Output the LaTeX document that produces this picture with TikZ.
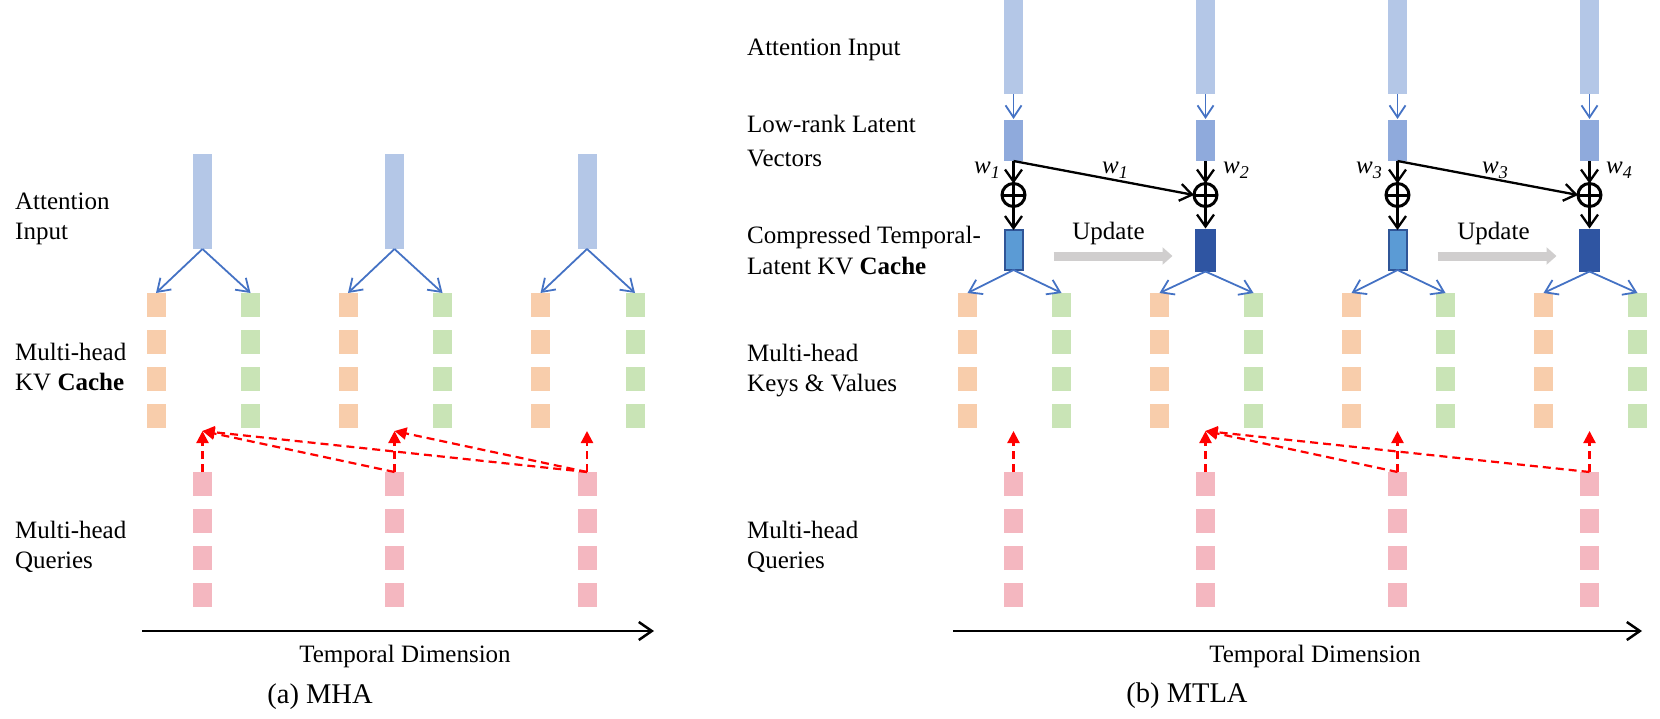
\documentclass[tikz,border=0pt]{standalone}
\usepackage{fontspec}
\setmainfont{Liberation Serif}
\usetikzlibrary{arrows.meta}
\definecolor{incol}{HTML}{B4C7E7}
\definecolor{latcol}{HTML}{8FAADC}
\definecolor{cacheLcol}{HTML}{5B9BD5}
\definecolor{cacheB}{HTML}{2F5597}
\definecolor{cacheDcol}{HTML}{2F55A2}
\definecolor{kcol}{HTML}{F8CDAB}
\definecolor{vcol}{HTML}{C9E4B6}
\definecolor{qcol}{HTML}{F4B7C0}
\definecolor{arrblue}{HTML}{4472C4}
\definecolor{updgrey}{HTML}{D0CECE}
\definecolor{redc}{HTML}{FF0000}
\tikzset{
 lbl/.style={inner sep=0, font=\fontsize{25}{30}\selectfont},
 captxt/.style={inner sep=0, font=\fontsize{28.5}{34}\selectfont},
 bx/.style={rectangle, inner sep=0, draw=none, minimum width=19pt, minimum height=24pt, outer sep=0},
 kbox/.style={bx, fill=kcol},
 vbox/.style={bx, fill=vcol},
 qbox/.style={bx, fill=qcol},
 inbar/.style={bx, fill=incol},
 latent/.style={bx, fill=latcol, minimum height=41pt},
 cacheL/.style={rectangle, inner sep=0, outer sep=0, fill=cacheLcol, draw=cacheB, line width=2pt, minimum width=18pt, minimum height=40pt},
 cacheD/.style={bx, fill=cacheDcol, minimum width=21pt, minimum height=43pt},
 oplus/.style={circle, draw, line width=3pt, minimum size=23pt, inner sep=0, outer sep=0},
 bluearr/.style={draw=arrblue, line width=1.8pt, -{Straight Barb[length=12pt,width=16pt]}},
 blkarr/.style={draw=black, line width=2.3pt, -{Straight Barb[length=12pt,width=17pt]}},
 redarr/.style={draw=redc, line width=2.2pt, dash pattern=on 8pt off 5pt, -{Triangle[length=12pt,width=12pt]}},
 axarr/.style={draw=black, line width=2.5pt, -{Straight Barb[length=13pt,width=18pt]}},
 updarr/.style={draw=updgrey, line width=9pt, -{Triangle[length=10pt,width=17pt]}},
 wlbl/.style={inner sep=0, font=\fontsize{25}{30}\selectfont\itshape},
}
\newcommand{\wsub}[1]{w\raisebox{-5pt}{\fontsize{18}{18}\selectfont #1}}
\begin{document}
\begin{tikzpicture}[x=1pt,y=-1pt]
\useasboundingbox (0,0) rectangle (1660,718);

% ---------------- (a) MHA ----------------
\foreach \i/\c in {1/202.5,2/394.5,3/587} {
  \node[inbar, minimum height=95pt] (A\i) at (\c,201.5) {};
  \foreach \r/\y in {1/305,2/342,3/379,4/416} {
    \node[kbox] (AK\i\r) at ({\c-46.5},\y) {};
    \node[vbox] (AV\i\r) at ({\c+48},\y) {};
    \node[qbox] (AQ\i\r) at (\c,{\y+179}) {};
  }
  \draw[bluearr] (A\i.south) -- (AK\i1.north);
  \draw[bluearr] (A\i.south) -- (AV\i1.north);
  \coordinate (AT\i) at (\c,431);
  \draw[redarr] (AQ\i1.north) -- (AT\i);
}
\draw[redarr] (AQ21.north) -- (AT1);
\draw[redarr] (AQ31.north) -- (AT1);
\draw[redarr] (AQ31.north) -- (AT2);

\node[lbl, anchor=base west] (la1) at (15,209) {Attention};
\node[lbl, anchor=base west] (la2) at (15,239) {Input};
\node[lbl, anchor=base west] (la3) at (15,360) {Multi-head};
\node[lbl, anchor=base west] (la4) at (15,390) {KV \textbf{Cache}};
\node[lbl, anchor=base west] (la5) at (15,538) {Multi-head};
\node[lbl, anchor=base west] (la6) at (15,568) {Queries};

\coordinate (axa1) at (142,631);
\coordinate (axa2) at (654,631);
\draw[axarr] (axa1) -- (axa2);
\node[lbl, anchor=base] (tda) at (405,662) {Temporal Dimension};
\node[captxt, anchor=base] (capa) at (320,703) {(a) MHA};

% ---------------- (b) MTLA ----------------
\foreach \i/\c/\cs in {1/1013.5/cacheL,2/1205.5/cacheD,3/1397.5/cacheL,4/1589.5/cacheD} {
  \node[inbar, minimum height=96pt] (B\i) at (\c,46) {};
  \node[latent] (L\i) at (\c,140.5) {};
  \node[oplus] (O\i) at (\c,195) {};
  \draw[line width=3pt] (O\i.north) -- (O\i.south) (O\i.west) -- (O\i.east);
  \node[\cs] (C\i) at (\c,250) {};
  \draw[bluearr, shorten >=1pt] (B\i.south) -- (L\i.north);
  \draw[blkarr] (L\i.south) -- (O\i.north);
  \draw[blkarr] (O\i.south) -- (C\i.north);
  \foreach \r/\y in {1/305,2/342,3/379,4/416} {
    \node[kbox] (BK\i\r) at ({\c-46},\y) {};
    \node[vbox] (BV\i\r) at ({\c+48},\y) {};
    \node[qbox] (BQ\i\r) at (\c,{\y+179}) {};
  }
  \draw[bluearr] (C\i.south) -- (BK\i1.north);
  \draw[bluearr] (C\i.south) -- (BV\i1.north);
  \coordinate (BT\i) at (\c,431);
  \draw[redarr] (BQ\i1.north) -- (BT\i);
}
\draw[blkarr] (L1.south) -- (O2.west);
\draw[blkarr] (L3.south) -- (O4.west);
\draw[redarr] (BQ31.north) -- (BT2);
\draw[redarr] (BQ41.north) -- (BT2);

\node[wlbl, anchor=base east] (w1a) at (1000,173) {\wsub{1}};
\node[wlbl, anchor=base west] (w1b) at (1102,173) {\wsub{1}};
\node[wlbl, anchor=base west] (w2) at (1223,173) {\wsub{2}};
\node[wlbl, anchor=base east] (w3a) at (1382,173) {\wsub{3}};
\node[wlbl, anchor=base west] (w3b) at (1482,173) {\wsub{3}};
\node[wlbl, anchor=base west] (w4) at (1606,173) {\wsub{4}};

\coordinate (u1s) at (1053.5,256);
\coordinate (u1e) at (1172.5,256);
\coordinate (u2s) at (1437.5,256);
\coordinate (u2e) at (1556.5,256);
\draw[updarr] (u1s) -- (u1e);
\draw[updarr] (u2s) -- (u2e);
\node[lbl, anchor=base] (up1) at (1108.5,239) {Update};
\node[lbl, anchor=base] (up2) at (1493.5,239) {Update};

\node[lbl, anchor=base west] (lb1) at (747,55) {Attention Input};
\node[lbl, anchor=base west] (lb2) at (747,132) {Low-rank Latent};
\node[lbl, anchor=base west] (lb3) at (747,166) {Vectors};
\node[lbl, anchor=base west] (lb4) at (747,243) {Compressed Temporal-};
\node[lbl, anchor=base west] (lb5) at (747,274) {Latent KV \textbf{Cache}};
\node[lbl, anchor=base west] (lb6) at (747,361) {Multi-head};
\node[lbl, anchor=base west] (lb7) at (747,391) {Keys \& Values};
\node[lbl, anchor=base west] (lb8) at (747,538) {Multi-head};
\node[lbl, anchor=base west] (lb9) at (747,568) {Queries};

\coordinate (axb1) at (953,631);
\coordinate (axb2) at (1642,631);
\draw[axarr] (axb1) -- (axb2);
\node[lbl, anchor=base] (tdb) at (1315,662) {Temporal Dimension};
\node[captxt, anchor=base] (capb) at (1187,702) {(b) MTLA};
\end{tikzpicture}
\end{document}
